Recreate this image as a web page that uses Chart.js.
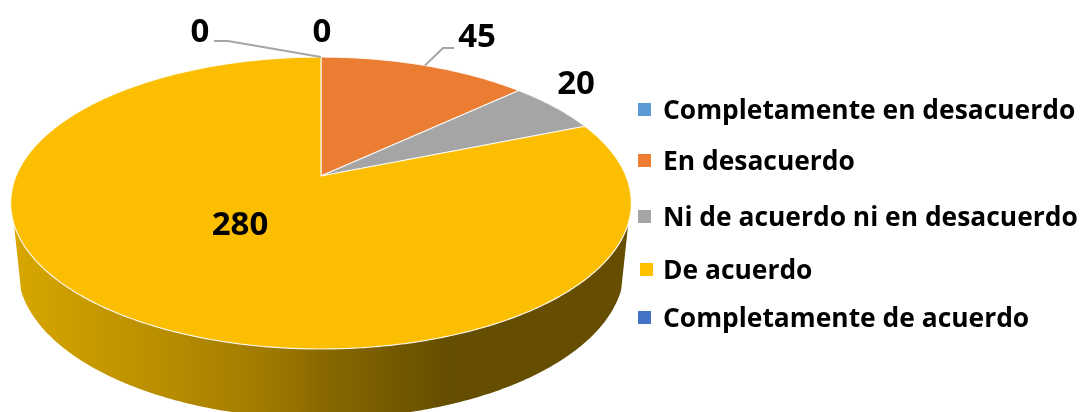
<!DOCTYPE html>
<html>
<head>
<meta charset="utf-8">
<style>
  html, body { margin: 0; padding: 0; background: #fff; overflow: hidden; }
  canvas { display: block; }
</style>
<script src="https://cdn.jsdelivr.net/npm/chart.js"></script>
</head>
<body>
<canvas id="pie" width="1081" height="412"></canvas>
<script>
const categories = ['Completamente en desacuerdo', 'En desacuerdo', 'Ni de acuerdo ni en desacuerdo', 'De acuerdo', 'Completamente de acuerdo'];
const responses = [0, 45, 20, 280, 0];
const sliceColors = ['#5B9BD5', '#EB7D32', '#A5A5A5', '#FBBE00', '#4472C4'];
const legendColors = ['#5B9BD5', '#ED7D31', '#A5A5A5', '#FFC000', '#4472C4'];

const FONT = '"Open Sans", sans-serif';

// perspective of the tilted disc: unit circle -> screen, relative to the arc centre
const spanX = 305, spanY = 141, tilt = 0.185;
function project(arc, angle, drop) {
    const u = Math.cos(angle), v = Math.sin(angle);
    const w = 1 - tilt * v;
    let x = spanX * u / w, y = spanY * v / w;
    if (drop) { // lower edge of the side wall
        x *= 0.977;
        y = y * 1.027 + 65;
    }
    return { x: arc.x + x, y: arc.y + y };
}

function sampleAngles(a0, a1) {
    const out = [];
    const steps = Math.max(2, Math.ceil((a1 - a0) / 0.01));
    for (let i = 0; i <= steps; i++) out.push(a0 + (a1 - a0) * i / steps);
    return out;
}

const tiltedPie = {
    id: 'tiltedPie',
    beforeDatasetsDraw(chart) {
        const ctx = chart.ctx;
        const arcs = chart.getDatasetMeta(0).data;
        ctx.save();
        // side wall, only the part facing the viewer
        const wall = ctx.createLinearGradient(12, 0, 630, 0);
        wall.addColorStop(0, '#D8A700');
        wall.addColorStop(0.2, '#BE9200');
        wall.addColorStop(0.4, '#A27C00');
        wall.addColorStop(0.5, '#8A6900');
        wall.addColorStop(0.7, '#664E00');
        wall.addColorStop(1, '#664D00');
        arcs.forEach(arc => {
            if (arc.circumference === 0) return;
            const angles = sampleAngles(arc.startAngle, arc.endAngle).filter(a => project(arc, a).y > arc.y + 47);
            if (!angles.length) return;
            ctx.beginPath();
            angles.forEach((a, i) => {
                const p = project(arc, a);
                if (i) ctx.lineTo(p.x, p.y); else ctx.moveTo(p.x, p.y);
            });
            angles.slice().reverse().forEach(a => {
                const p = project(arc, a, true);
                ctx.lineTo(p.x, p.y);
            });
            ctx.closePath();
            ctx.fillStyle = wall;
            ctx.fill();
        });
        // top face
        arcs.forEach((arc, i) => {
            if (arc.circumference === 0) return;
            ctx.beginPath();
            ctx.moveTo(arc.x, arc.y);
            sampleAngles(arc.startAngle, arc.endAngle).forEach(a => {
                const p = project(arc, a);
                ctx.lineTo(p.x, p.y);
            });
            ctx.closePath();
            ctx.fillStyle = sliceColors[i];
            ctx.fill();
            ctx.strokeStyle = 'rgba(255,255,255,0.85)';
            ctx.lineWidth = 1.2;
            ctx.lineJoin = 'round';
            ctx.stroke();
        });
        ctx.restore();
        return false;
    }
};

const pieLabels = {
    id: 'pieLabels',
    afterDraw(chart) {
        const ctx = chart.ctx;
        const arcs = chart.getDatasetMeta(0).data;
        const spots = [[322, 33], [477, 38], [576, 85], [240, 226], [200, 33]];
        const elbows = [null, [[443, 48], [454, 48]], null, null, [[228, 41], [214, 41]]];
        ctx.save();
        elbows.forEach((pts, i) => {
            if (!pts) return;
            const arc = arcs[i];
            const p = project(arc, (arc.startAngle + arc.endAngle) / 2);
            ctx.beginPath();
            ctx.moveTo(p.x, p.y);
            pts.forEach(q => ctx.lineTo(q[0], q[1]));
            ctx.strokeStyle = '#A6A6A6';
            ctx.lineWidth = 2;
            ctx.stroke();
        });
        ctx.fillStyle = '#000';
        ctx.font = 'bold 33px ' + FONT;
        ctx.textAlign = 'center';
        ctx.textBaseline = 'middle';
        responses.forEach((v, i) => ctx.fillText(String(v), spots[i][0], spots[i][1]));

        // legend rows are not evenly spaced in the source
        const rowY = [109, 160, 216, 269, 317];
        const boxX = [638, 638, 638, 640, 638];
        ctx.font = 'bold 26.4px ' + FONT;
        ctx.textAlign = 'left';
        categories.forEach((name, i) => {
            ctx.fillStyle = legendColors[i];
            ctx.fillRect(boxX[i], rowY[i] - 6, 13, 13);
            ctx.fillStyle = '#000';
            ctx.fillText(name, 663, rowY[i] + 2);
        });
        ctx.restore();
    }
};

new Chart(document.getElementById('pie').getContext('2d'), {
    type: 'pie',
    data: {
        labels: categories,
        datasets: [{ data: responses, backgroundColor: sliceColors, borderWidth: 0 }]
    },
    options: {
        responsive: false,
        animation: false,
        // keeps the arc centre on the apex of the disc, x 321 y 176
        layout: { padding: { left: 0, top: 0, right: 439, bottom: 60 } },
        plugins: { legend: { display: false }, tooltip: { enabled: false } }
    },
    plugins: [tiltedPie, pieLabels]
});
</script>
</body>
</html>
